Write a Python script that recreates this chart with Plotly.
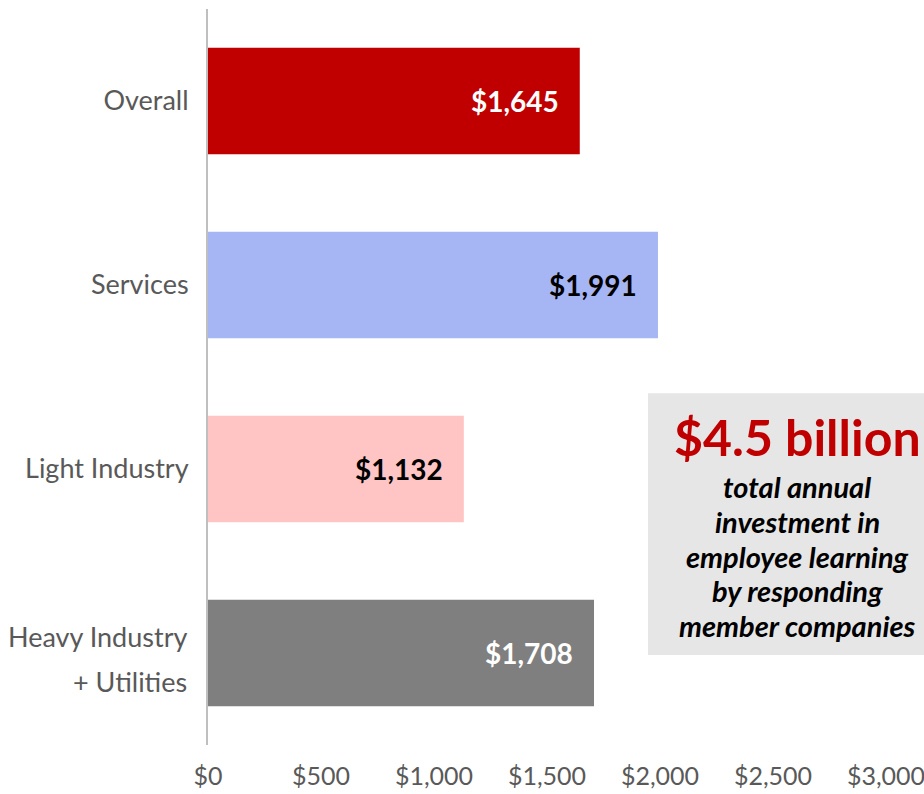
import plotly.graph_objects as go

# Annual learning investment per employee, by sector
categories = ["Overall", "Services", "Light Industry", "Heavy Industry + Utilities"]
category_lines = [["Overall"], ["Services"], ["Light Industry"], ["Heavy Industry", "+ Utilities"]]
values = [1645, 1991, 1132, 1708]
bar_colors = ["#C00000", "#A6B6F4", "#FFC5C5", "#7F7F7F"]
label_colors = ["white", "black", "black", "white"]

tick_vals = [0, 500, 1000, 1500, 2000, 2500, 3000]
tick_text = ["$0", "$500", "$1,000", "$1,500", "$2,000", "$2,500", "$3,000"]

headline = "$4.5 billion"
callout_lines = ["total annual", "investment in", "employee learning",
                 "by responding", "member companies"]

FONT = "Lato, 'Open Sans', sans-serif"
GRAY_TEXT = "#595959"

fig = go.Figure(
    go.Bar(
        x=values,
        y=categories,
        orientation="h",
        marker=dict(color=bar_colors, line=dict(width=0)),
        hoverinfo="skip",
    )
)

fig.update_layout(
    width=924,
    height=794,
    margin=dict(l=208, r=38, t=9, b=49),
    paper_bgcolor="white",
    plot_bgcolor="white",
    showlegend=False,
    bargap=0.42,
    font=dict(family=FONT, color=GRAY_TEXT),
    xaxis=dict(
        range=[0, 3000],
        tickvals=tick_vals,
        ticktext=tick_text,
        showgrid=False,
        zeroline=False,
        showline=False,
        ticks="",
        tickfont=dict(family=FONT, size=25, color=GRAY_TEXT),
        ticklabelstandoff=14,
        ticklabeloverflow="allow",
        automargin=False,
        fixedrange=True,
    ),
    yaxis=dict(
        autorange="reversed",
        tickvals=categories,
        ticktext=[lines[0] if len(lines) == 1 else "" for lines in category_lines],
        showgrid=False,
        zeroline=False,
        showline=True,
        linecolor="#BFBFBF",
        linewidth=2,
        ticks="",
        tickfont=dict(family=FONT, size=27, color=GRAY_TEXT),
        ticklabelstandoff=12,
        automargin=False,
        fixedrange=True,
    ),
)

# Two-line category label, set with wider line spacing
for cat, lines in zip(categories, category_lines):
    if len(lines) > 1:
        for txt, dy in zip(lines, [17, -28]):
            fig.add_annotation(
                xref="paper", yref="y", x=0, y=cat, xshift=-19, yshift=dy,
                text=txt, showarrow=False, xanchor="right", yanchor="middle",
                font=dict(family=FONT, size=27, color=GRAY_TEXT),
            )

# Value labels near the end of each bar
for cat, v, col in zip(categories, values, label_colors):
    fig.add_annotation(
        xref="x", yref="y", x=v, y=cat, xshift=-19,
        text=f"${v:,}", showarrow=False, xanchor="right", yanchor="middle",
        font=dict(family=FONT, size=28, color=col, weight="bold"),
    )

# Callout box on the right
fig.add_shape(
    type="rect", xref="paper", yref="paper",
    x0=0.649, x1=1.06, y0=0.1223, y1=0.478,
    fillcolor="#E7E6E6", line=dict(width=0), layer="below",
)

cx = 0.869
fig.add_annotation(
    xref="paper", yref="paper", x=cx, y=(745 - 437) / 736,
    text=headline, showarrow=False, xanchor="center", yanchor="middle",
    font=dict(family=FONT, size=50, color="#C00000", weight="bold"),
)
line_y = [486, 521, 556, 590, 625]
for txt, py in zip(callout_lines, line_y):
    fig.add_annotation(
        xref="paper", yref="paper", x=cx, y=(745 - py) / 736,
        text=f"<i>{txt}</i>", showarrow=False, xanchor="center", yanchor="middle",
        font=dict(family=FONT, size=29, color="black", weight="bold"),
    )

fig.write_html("out.html")
